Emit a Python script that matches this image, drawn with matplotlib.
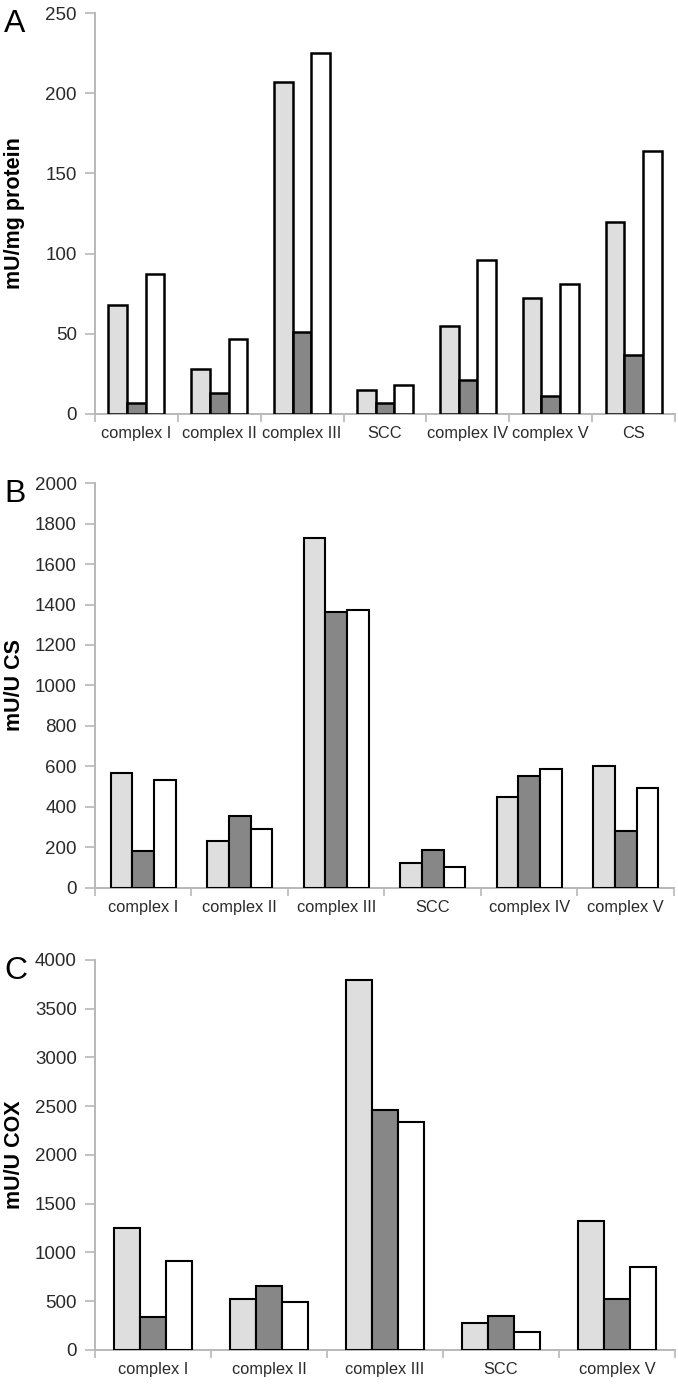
import matplotlib
matplotlib.use('Agg')
import matplotlib.pyplot as plt
import numpy as np

plt.rcParams['font.family'] = ['Liberation Sans', 'DejaVu Sans']

# panel A - mU/mg protein
catsA = ['complex I', 'complex II', 'complex III', 'SCC', 'complex IV', 'complex V', 'CS']
lightA = [68, 28, 207, 15, 55, 72, 120]
darkA = [7, 13, 51, 7, 21, 11, 37]
whiteA = [87, 47, 225, 18, 96, 81, 164]

# panel B - mU/U CS
catsB = ['complex I', 'complex II', 'complex III', 'SCC', 'complex IV', 'complex V']
lightB = [566, 234, 1727, 122, 451, 602]
darkB = [183, 357, 1361, 186, 552, 283]
whiteB = [533, 290, 1373, 104, 586, 492]

# panel C - mU/U COX
catsC = ['complex I', 'complex II', 'complex III', 'SCC', 'complex V']
lightC = [1254, 523, 3795, 280, 1326]
darkC = [338, 656, 2462, 345, 523]
whiteC = [913, 496, 2335, 181, 848]

fill_colors = ['#dedede', '#878787', '#ffffff']
spine_col = '#b8b8b8'


def panel(fig, rect, cats, series, yticks, ylabel, letter, lw):
    ax = fig.add_axes(rect)
    n = len(cats)
    x = np.arange(n) + 0.5
    w = 0.225
    for k, vals in enumerate(series):
        ax.bar(x + (k - 1) * w, vals, width=w, color=fill_colors[k],
               edgecolor='black', linewidth=lw, zorder=3)
    ax.set_xlim(0, n)
    ax.set_ylim(0, yticks[-1])
    ax.set_yticks(yticks)
    ax.set_xticks(np.arange(n + 1))
    ax.set_xticklabels([])
    ax.set_xticks(x, minor=True)
    ax.set_xticklabels(cats, minor=True, fontsize=11.8, color='#2a2a2a')
    ax.tick_params(axis='x', which='major', length=6, width=1.2, color=spine_col, direction='out')
    ax.tick_params(axis='x', which='minor', length=0, pad=9)
    ax.tick_params(axis='y', length=7, width=1.2, color=spine_col, pad=6,
                   labelsize=13.5, labelcolor='#2a2a2a')
    for s in ['top', 'right']:
        ax.spines[s].set_visible(False)
    for s in ['left', 'bottom']:
        ax.spines[s].set_color(spine_col)
        ax.spines[s].set_linewidth(1.4)
    fig.text(0.022, rect[1] + rect[3] / 2, ylabel, rotation=90, fontsize=15.5,
             fontweight='bold', ha='center', va='center')
    fig.text(0.006, rect[1] + rect[3] + 0.003, letter, fontsize=23, ha='left', va='top')
    return ax


fig = plt.figure(figsize=(6.78, 13.84), dpi=100, facecolor='w')

panel(fig, [0.140, 0.7009, 0.8556, 0.2897], catsA, [lightA, darkA, whiteA],
      np.arange(0, 251, 50), 'mU/mg protein', 'A', 1.8)
panel(fig, [0.140, 0.3584, 0.8541, 0.2926], catsB, [lightB, darkB, whiteB],
      np.arange(0, 2001, 200), 'mU/U CS', 'B', 1.5)
panel(fig, [0.140, 0.0246, 0.8556, 0.2818], catsC, [lightC, darkC, whiteC],
      np.arange(0, 4001, 500), 'mU/U COX', 'C', 1.5)

fig.savefig('out.png', dpi=100)
